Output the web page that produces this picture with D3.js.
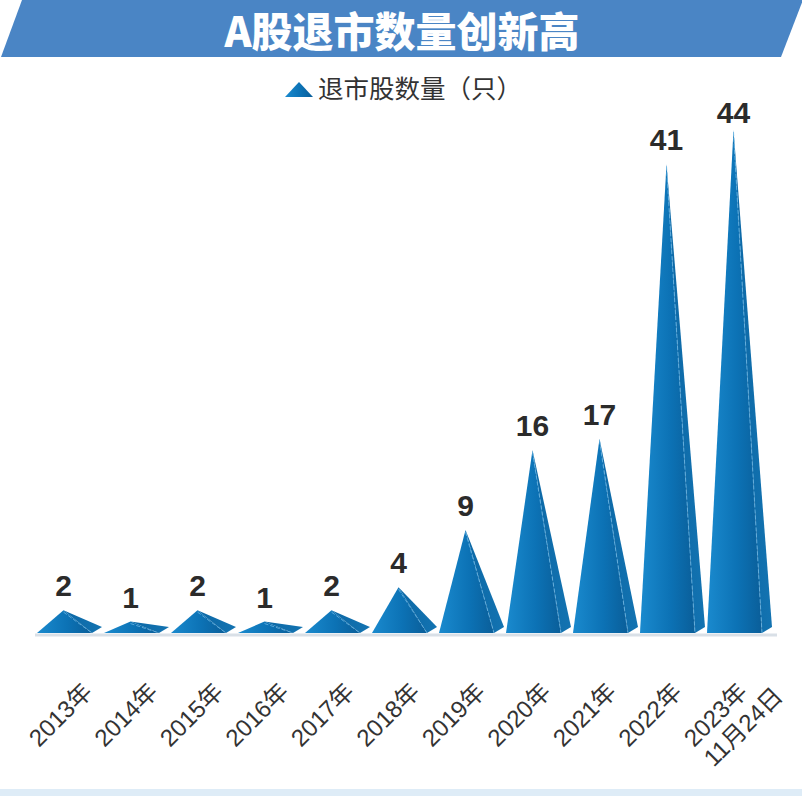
<!DOCTYPE html>
<html>
<head>
<meta charset="utf-8">
<script src="https://cdn.jsdelivr.net/npm/d3@7"></script>
<style>
  body { margin: 0; background: #fff; }
  svg { display: block; }
</style>
</head>
<body>
<div id="chart"></div>
<script>
const width = 802;
const height = 796;

// data
const title = "A股退市数量创新高";
const legendLabel = "退市股数量（只）";
const years = ["2013年","2014年","2015年","2016年","2017年","2018年","2019年","2020年","2021年","2022年","2023年"];
const subLabels = ["","","","","","","","","","","11月24日"];
const counts = [2,1,2,1,2,4,9,16,17,41,44];

const svg = d3.select("#chart")
  .append("svg")
  .attr("width", width)
  .attr("height", height);

const defs = svg.append("defs");
const front = defs.append("linearGradient").attr("id", "front")
  .attr("x1", "0%").attr("x2", "100%").attr("y1", "0%").attr("y2", "0%");
front.append("stop").attr("offset", "0%").attr("stop-color", "#1a8ace");
front.append("stop").attr("offset", "55%").attr("stop-color", "#0c72b5");
front.append("stop").attr("offset", "100%").attr("stop-color", "#0a5e99");
const side = defs.append("linearGradient").attr("id", "side")
  .attr("x1", "0%").attr("x2", "100%").attr("y1", "0%").attr("y2", "0%");
side.append("stop").attr("offset", "0%").attr("stop-color", "#0c68a6");
side.append("stop").attr("offset", "100%").attr("stop-color", "#1373b1");

// title banner
svg.append("path")
  .attr("d", "M22,0 L803,0 L781,57 L1,57 Z")
  .attr("fill", "#4a85c5");
svg.append("text")
  .text(title)
  .attr("x", 402)
  .attr("y", 47)
  .attr("dominant-baseline", "alphabetic")
  .attr("text-anchor", "middle")
  .attr("font-family", "'Noto Sans CJK SC', sans-serif")
  .attr("font-weight", 900)
  .attr("font-size", 41)
  .attr("fill", "#fff");

// legend
const legend = svg.append("g").attr("transform", "translate(285,97)");
legend.append("path")
  .attr("d", "M0,0 L14,-15 L28,0 Z")
  .attr("fill", "url(#front)");
legend.append("text")
  .text(legendLabel)
  .attr("x", 33)
  .attr("y", 1)
  .attr("font-family", "'Noto Sans CJK SC', sans-serif")
  .attr("font-size", 25.5)
  .attr("fill", "#333");

const x = d3.scaleBand()
  .domain(years)
  .range([37, 762])
  .paddingInner(12 / 67)
  .paddingOuter(0);

const y = d3.scaleLinear()
  .domain([0, 44])
  .range([633, 130]);

const labelX = d3.scalePoint()
  .domain(years)
  .range([60, 715]);

// baseline
svg.append("line")
  .attr("x1", 35).attr("x2", 777)
  .attr("y1", 635).attr("y2", 635)
  .attr("stroke", "#d9e0e7")
  .attr("stroke-width", 3);

const depth = 10, rise = 6;
const bars = svg.append("g")
  .selectAll("g")
  .data(years)
  .join("g");

bars.append("path")
  .attr("d", (d, i) => {
    const xl = x(d), xr = xl + x.bandwidth(), ax = xl + x.bandwidth() / 2 - 1;
    return `M${ax},${y(counts[i])} L${xr},${y(0)} L${xr + depth},${y(0) - rise} Z`;
  })
  .attr("fill", "url(#side)");

bars.append("path")
  .attr("d", (d, i) => {
    const xl = x(d), xr = xl + x.bandwidth(), ax = xl + x.bandwidth() / 2 - 1;
    return `M${xl},${y(0)} L${ax},${y(counts[i])} L${xr},${y(0)} Z`;
  })
  .attr("fill", "url(#front)");

bars.append("line")
  .attr("x1", d => x(d) + x.bandwidth() / 2 - 1)
  .attr("y1", (d, i) => y(counts[i]) + 2)
  .attr("x2", d => x(d) + x.bandwidth())
  .attr("y2", y(0))
  .attr("stroke", "#6bb6e4")
  .attr("stroke-width", 0.8)
  .attr("stroke-dasharray", "4,2");

// value labels
bars.append("text")
  .text((d, i) => counts[i])
  .attr("x", d => x(d) + x.bandwidth() / 2 - 1)
  .attr("y", (d, i) => Math.max(y(counts[i]) - 14, 123))
  .attr("text-anchor", "middle")
  .attr("font-family", "'Liberation Sans', Arial, sans-serif")
  .attr("font-weight", "bold")
  .attr("font-size", 30)
  .attr("fill", "#2b2b2b");

// category labels
const labels = svg.append("g")
  .selectAll("text")
  .data(years)
  .join("text")
  .attr("transform", d => `translate(${labelX(d) - 21},748) rotate(-45)`)
  .attr("font-family", "'Liberation Sans', 'Noto Sans CJK SC', sans-serif")
  .attr("font-size", 24)
  .attr("fill", "#333");

labels.append("tspan")
  .attr("x", 0)
  .text(d => d);
labels.filter((d, i) => subLabels[i] !== "")
  .append("tspan")
  .attr("x", 0)
  .attr("dy", "1.17em")
  .text(d => subLabels[years.indexOf(d)]);

// bottom band
svg.append("rect")
  .attr("x", 0).attr("y", 789)
  .attr("width", width).attr("height", 7)
  .attr("fill", "#deecf7");
</script>
</body>
</html>
